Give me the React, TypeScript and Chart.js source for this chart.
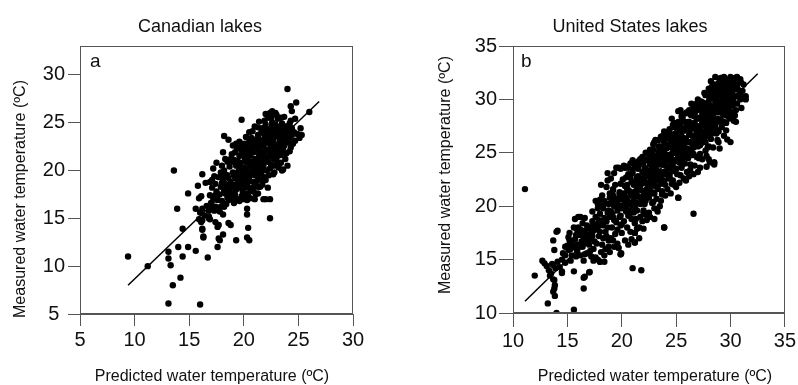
import React, { useEffect, useRef } from 'react';
import { Chart, registerables } from 'chart.js';
Chart.register(...registerables);

// ---------- Data ----------
const canadaPoints: [number, number][] = [
  [9.4, 11.0], [11.2, 10.0], [13.1, 11.5], [13.1, 10.8], [13.3, 10.1], [13.1, 6.1], [13.5, 8.0], [13.6, 20.0],
  [13.9, 16.0], [14.0, 12.0], [14.2, 8.8], [14.4, 13.9], [14.4, 11.0], [14.9, 12.0], [14.9, 17.6], [15.6, 11.6],
  [15.6, 16.0], [15.8, 18.4], [16.0, 6.0], [15.9, 17.1], [16.1, 17.3], [16.2, 19.6], [16.2, 13.8], [16.3, 13.1],
  [16.7, 10.9], [16.5, 18.7], [16.8, 15.2], [16.9, 18.8], [17.2, 20.2], [17.3, 19.4], [17.5, 20.8], [17.6, 12.0],
  [17.7, 12.9], [17.7, 14.3], [18.1, 13.3], [18.1, 21.9], [18.2, 23.6], [18.6, 23.2], [18.6, 14.5], [18.8, 14.3],
  [19.3, 12.7], [19.8, 25.3], [20.3, 16.0], [20.3, 15.4], [20.4, 14.0], [20.3, 13.0], [20.5, 12.7], [22.4, 15.0],
  [24.0, 28.5], [24.8, 27.1], [24.3, 26.7], [26.0, 26.1], [25.3, 23.7], [24.7, 23.1], [24.7, 25.4], [23.6, 20.1],
  [22.6, 26.2], [25.2, 24.4], [24.2, 24.9], [17.8, 12.7], [17.6, 14.1], [18.1, 15.4], [16.2, 14.8], [16.8, 15.0],
  [21.8, 17.0], [22.0, 17.0], [20.3, 16.9], [16.3, 13.0], [16.2, 13.9],
  [17.8, 17.5], [17.9, 18.3], [18.0, 16.8], [18.1, 19.0], [18.2, 17.9], [18.3, 18.6], [18.4, 16.5], [18.5, 19.5],
  [18.5, 17.2], [18.6, 18.0], [18.7, 20.4], [18.8, 18.8], [18.9, 17.0], [19.0, 19.8], [19.0, 18.2], [19.1, 21.1],
  [19.2, 17.5], [19.2, 19.2], [19.3, 20.5], [19.4, 18.6], [19.4, 22.3], [19.5, 17.0], [19.5, 19.9], [19.6, 21.5],
  [19.7, 18.3], [19.7, 20.8], [19.8, 19.3], [19.9, 22.0], [19.9, 17.8], [20.0, 20.3], [20.0, 18.9], [20.1, 21.3],
  [20.1, 22.8], [20.2, 19.6], [20.2, 17.4], [20.3, 20.9], [20.3, 18.4], [20.4, 22.1], [20.4, 19.1], [20.5, 23.0],
  [20.5, 20.4], [20.6, 21.6], [20.6, 18.0], [20.7, 19.8], [20.7, 22.5], [20.8, 20.9], [20.8, 24.1], [20.9, 18.8],
  [20.9, 21.9], [21.0, 19.5], [21.0, 23.2], [21.1, 20.6], [21.1, 17.5], [21.2, 22.4], [21.2, 21.0], [21.3, 19.0],
  [21.3, 23.7], [21.4, 20.2], [21.4, 22.0], [21.5, 21.3], [21.5, 18.3], [21.6, 23.0], [21.6, 19.8], [21.7, 24.4],
  [21.7, 21.8], [21.8, 20.5], [21.8, 22.6], [21.9, 19.3], [21.9, 23.5], [22.0, 21.0], [22.0, 24.8], [22.1, 22.2],
  [22.1, 20.0], [22.2, 23.3], [22.2, 25.5], [22.3, 21.5], [22.3, 19.5], [22.4, 22.8], [22.4, 24.2], [22.5, 20.6],
  [22.5, 23.8], [22.6, 22.0], [22.6, 25.0], [22.7, 21.2], [22.7, 23.1], [22.8, 24.5], [22.8, 19.8], [22.9, 22.5],
  [23.0, 23.9], [23.0, 21.0], [23.1, 25.4], [23.1, 22.2], [23.2, 20.3], [23.2, 24.2], [23.3, 22.8], [23.4, 21.6],
  [23.4, 23.5], [23.5, 24.9], [23.5, 20.0], [23.6, 22.3], [23.7, 23.9], [23.8, 21.2], [23.8, 24.6], [23.9, 22.9],
  [24.0, 23.4], [24.1, 24.1], [24.2, 22.0], [24.3, 25.2], [24.4, 23.7],
  [17.0, 16.6], [17.2, 17.1], [17.4, 16.2], [17.5, 17.8], [17.6, 16.9], [17.7, 19.3], [17.3, 15.8], [16.8, 16.3],
  [16.9, 17.4], [17.1, 18.2], [18.0, 20.5], [18.3, 21.2], [18.9, 21.7], [19.1, 16.6], [19.6, 16.8], [20.0, 17.0],
  [19.3, 22.8], [19.0, 22.6], [20.6, 17.1], [21.0, 17.0], [21.3, 17.6], [22.4, 17.0], [21.7, 18.5], [20.8, 18.2],
  [18.0, 18.7], [18.2, 20.0], [18.4, 18.1], [18.6, 19.2], [18.8, 17.6], [19.0, 20.9], [19.1, 19.5], [19.3, 18.0],
  [19.5, 20.6], [19.6, 18.8], [19.8, 21.9], [19.9, 19.7], [20.1, 18.2], [20.2, 20.9], [20.4, 21.6], [20.5, 19.3],
  [20.7, 23.4], [20.8, 19.9], [21.0, 22.6], [21.1, 18.8], [21.2, 20.0], [21.4, 23.2], [21.5, 19.5], [21.7, 22.9],
  [21.8, 21.2], [22.0, 19.0], [22.1, 23.8], [22.3, 22.1], [22.5, 21.8], [22.7, 24.0], [22.9, 20.5], [23.1, 23.6],
  [23.3, 24.4], [23.6, 23.2], [23.9, 24.0], [24.1, 23.0], [24.3, 22.4], [21.9, 25.2], [22.4, 25.8], [21.3, 24.5],
  [20.6, 22.9], [20.0, 21.8], [19.7, 22.4], [23.0, 22.0], [22.2, 20.9], [21.6, 20.7], [20.9, 20.3], [20.3, 19.8],
  [19.4, 19.5], [18.9, 18.4],
  [16.0, 15.6], [16.2, 16.0], [16.4, 15.3], [16.6, 16.3], [16.8, 15.8], [17.0, 16.1], [16.9, 14.9], [16.1, 14.6],
  [15.9, 14.9], [17.4, 14.6], [17.8, 15.7], [17.9, 16.2], [17.6, 17.4], [17.1, 19.0], [17.4, 18.6],
  [18.3, 17.6], [18.7, 18.3], [19.0, 17.6], [19.2, 18.5], [19.4, 21.0], [19.6, 20.2], [19.8, 18.7], [20.0, 19.4],
  [20.1, 20.0], [20.3, 21.4], [20.4, 18.8], [20.5, 21.0], [20.6, 19.6], [20.7, 21.9], [20.8, 20.4], [20.9, 22.8],
  [21.0, 21.2], [21.1, 19.9], [21.2, 23.0], [21.3, 20.6], [21.4, 21.6], [21.5, 22.5], [21.6, 21.0], [21.7, 20.0],
  [21.8, 23.9], [21.9, 22.0], [22.0, 22.9], [22.1, 21.4], [22.2, 24.3], [22.3, 23.4], [22.4, 20.2], [22.5, 22.4],
  [22.6, 24.7], [22.7, 22.6], [22.8, 23.5], [22.9, 21.7], [23.0, 24.6], [23.1, 21.5], [23.2, 22.6], [23.3, 23.1],
  [23.4, 24.0], [23.5, 22.0], [23.6, 24.2], [23.7, 22.6], [23.8, 23.5], [23.9, 21.8], [24.0, 24.6], [24.2, 23.4],
  [24.4, 24.4], [24.5, 22.8], [22.0, 25.9], [22.5, 25.5], [23.0, 25.8], [22.9, 26.0], [23.4, 25.5], [21.4, 25.1],
  [21.0, 24.6], [20.5, 24.0], [20.2, 23.5], [19.6, 23.0], [19.2, 21.9], [18.8, 21.2], [18.5, 20.9], [18.2, 19.5],
  [17.9, 19.8], [19.1, 17.1], [19.8, 17.3], [20.4, 17.6], [21.3, 18.3], [21.8, 19.0], [22.6, 20.5], [23.1, 20.8],
  [22.2, 18.2], [20.9, 17.8], [19.5, 18.2], [18.6, 16.9], [18.2, 16.2], [17.7, 16.0], [17.4, 17.4], [22.7, 19.6],
  [23.4, 20.8], [24.0, 20.5], [24.6, 24.0], [24.9, 23.8], [25.1, 23.4], [24.4, 26.2], [23.7, 25.6], [22.4, 26.0],
  [22.9, 24.8], [21.6, 24.0], [21.2, 22.6], [20.7, 22.4], [20.2, 22.4], [19.8, 22.8]
];
const canadaFit: [number, number][] = [[9.4, 8.0], [26.9, 27.2]];

const usPoints: [number, number][] = [
  [11.1, 21.6], [12.0, 13.5], [12.7, 14.9], [12.9, 14.65], [13.1, 14.4], [13.3, 14.0], [13.5, 13.7], [13.4, 13.5],
  [13.7, 13.15], [13.85, 12.6], [13.8, 12.3], [13.7, 12.0], [13.85, 11.6], [13.2, 10.9], [14.0, 10.0], [13.7, 14.5],
  [13.8, 13.1], [14.1, 14.8], [14.5, 13.9], [13.7, 16.8], [13.8, 15.9], [14.0, 17.6], [14.1, 17.7], [14.5, 15.0],
  [14.8, 15.4], [13.9, 14.2], [13.6, 14.6], [14.3, 14.3], [14.5, 13.75],
  [15.6, 10.3], [16.5, 12.3], [16.6, 13.4], [17.0, 13.8], [15.6, 13.9], [16.5, 13.3], [17.05, 13.84], [15.1, 17.1],
  [15.4, 16.5], [15.7, 18.8], [16.4, 18.4], [15.1, 15.9], [15.5, 16.2], [16.3, 16.7], [16.75, 17.1], [17.2, 17.5],
  [15.0, 16.3], [15.3, 16.0], [15.7, 16.9], [15.9, 16.4], [16.0, 17.3], [16.2, 17.8], [16.4, 16.2], [16.6, 17.7],
  [16.8, 18.2], [16.9, 16.6], [17.0, 18.0], [17.1, 16.9], [17.3, 18.6], [17.4, 16.0], [15.6, 18.0], [16.0, 18.0],
  [16.2, 15.4], [16.6, 15.5], [16.8, 15.6], [17.2, 15.3], [17.4, 14.9], [17.6, 15.2], [16.0, 19.0], [15.9, 17.8],
  [17.3, 17.2], [16.5, 16.5], [16.1, 16.2], [14.8, 16.2], [14.6, 15.6], [15.2, 16.8], [15.9, 15.8],
  [17.5, 17.8], [17.8, 18.1], [18.1, 18.4], [17.8, 15.0], [18.4, 15.4], [18.9, 15.7], [19.3, 16.2], [19.95, 15.6],
  [19.6, 16.5], [18.4, 14.8], [18.0, 14.8], [17.6, 19.0], [17.8, 19.8], [18.0, 20.6], [18.2, 21.0], [18.0, 19.3],
  [18.3, 17.0], [18.5, 17.6], [18.6, 18.6], [18.7, 19.4], [18.8, 20.2], [18.6, 21.8], [18.7, 22.4], [18.7, 23.1],
  [18.9, 20.8], [19.0, 17.0], [19.1, 18.0], [19.2, 19.0], [19.2, 21.5], [19.3, 20.0], [19.4, 22.0], [19.4, 17.4],
  [19.5, 18.5], [19.5, 23.6], [19.6, 19.6], [19.7, 20.6], [19.7, 16.1], [19.8, 21.3], [19.9, 18.2], [19.9, 15.5],
  [18.2, 16.4], [18.5, 16.0], [18.8, 16.8], [17.9, 17.2], [17.7, 16.5], [18.3, 19.8], [18.1, 22.0], [19.0, 22.6],
  [19.3, 23.1], [17.6, 20.5], [18.4, 20.5], [19.1, 20.4], [18.9, 19.0], [19.6, 17.8], [19.8, 19.0],
  [20.0, 17.5], [20.0, 19.8], [20.1, 20.6], [20.1, 22.5], [20.2, 18.6], [20.2, 21.2], [20.3, 23.6], [20.3, 16.8],
  [20.4, 19.5], [20.4, 20.8], [20.5, 22.0], [20.5, 18.0], [20.6, 21.5], [20.6, 23.0], [20.7, 19.2], [20.7, 20.2],
  [20.8, 22.7], [20.8, 17.6], [20.9, 21.0], [20.9, 18.8], [21.0, 19.9], [21.0, 23.4], [21.0, 14.2], [21.1, 22.0],
  [21.1, 20.5], [21.2, 16.6], [21.2, 17.5], [21.2, 18.4], [21.3, 21.4], [21.3, 24.0], [21.4, 19.6], [21.4, 22.7],
  [21.5, 20.9], [21.5, 23.5], [21.6, 18.0], [21.6, 21.8], [21.7, 19.0], [21.7, 24.4], [21.8, 14.0], [21.8, 20.3],
  [21.8, 22.4], [21.9, 23.2], [21.9, 18.6], [22.0, 21.0], [22.0, 24.1], [22.0, 19.6], [21.2, 23.8], [20.8, 24.0],
  [20.4, 23.7], [20.2, 23.8], [21.4, 17.9], [22.0, 17.9], [21.6, 17.0], [20.9, 16.9], [20.6, 16.4],
  [22.1, 22.3], [22.1, 20.2], [22.2, 23.5], [22.2, 25.0], [22.3, 21.6], [22.3, 18.7], [22.4, 24.3], [22.4, 22.8],
  [22.5, 20.8], [22.5, 19.4], [22.6, 23.0], [22.6, 25.3], [22.7, 21.9], [22.7, 24.6], [22.8, 20.3], [22.8, 23.6],
  [22.9, 22.4], [22.9, 25.8], [23.0, 21.2], [23.0, 24.0], [23.0, 19.8], [23.1, 22.9], [23.1, 26.2], [23.2, 23.4],
  [23.2, 20.7], [23.3, 24.8], [23.3, 21.8], [23.4, 22.5], [23.4, 25.6], [23.5, 23.9], [23.5, 20.0], [23.6, 26.5],
  [23.6, 22.1], [23.7, 24.4], [23.7, 21.4], [23.8, 25.2], [23.8, 23.0], [23.9, 18.0], [23.9, 26.0], [24.0, 24.0],
  [24.0, 22.0], [24.0, 21.0], [22.6, 19.0], [23.0, 18.8], [22.4, 21.5], [22.8, 21.2], [23.3, 19.5], [23.6, 20.5],
  [22.2, 19.2],
  [24.1, 25.4], [24.1, 23.2], [24.2, 26.6], [24.2, 21.6], [24.3, 24.6], [24.3, 22.6], [24.4, 27.2], [24.4, 25.8],
  [24.5, 23.8], [24.5, 21.2], [24.6, 26.2], [24.6, 24.9], [24.7, 22.4], [24.7, 27.6], [24.8, 25.5], [24.8, 23.3],
  [24.9, 26.8], [24.9, 24.2], [25.0, 21.8], [25.0, 25.9], [25.1, 27.4], [25.1, 23.0], [25.2, 28.9], [25.2, 20.8],
  [25.2, 24.6], [25.3, 26.4], [25.3, 22.2], [25.4, 25.2], [25.4, 27.8], [25.5, 23.6], [25.5, 26.9], [25.6, 24.4],
  [25.6, 28.3], [25.7, 25.7], [25.7, 22.6], [25.8, 27.1], [25.8, 24.0], [25.9, 26.3], [25.9, 28.7], [26.0, 25.0],
  [26.0, 23.2], [24.4, 23.0], [24.8, 22.0], [25.0, 26.5], [25.6, 26.0], [25.9, 22.4], [26.0, 27.6], [24.6, 28.2],
  [25.4, 29.0],
  [26.1, 27.9], [26.1, 24.5], [26.2, 26.0], [26.2, 29.0], [26.3, 25.3], [26.3, 23.4], [26.4, 27.3], [26.4, 28.5],
  [26.5, 26.6], [26.5, 24.8], [26.6, 19.3], [26.6, 29.2], [26.6, 25.8], [26.7, 27.8], [26.7, 23.8], [26.8, 26.2],
  [26.8, 28.9], [26.9, 24.6], [26.9, 27.0], [27.0, 25.6], [27.0, 29.4], [27.0, 23.2], [27.1, 28.2], [27.1, 26.7],
  [27.2, 24.9], [27.2, 29.1], [27.3, 27.5], [27.3, 25.9], [27.4, 28.6], [27.4, 24.4], [27.5, 27.0], [27.5, 29.7],
  [27.6, 26.2], [27.6, 28.0], [27.7, 25.2], [27.7, 29.3], [27.8, 27.4], [27.8, 24.7], [27.9, 28.8], [27.9, 26.6],
  [28.0, 29.8], [28.0, 25.6], [26.2, 22.8], [26.6, 23.0], [27.2, 23.6], [27.8, 23.7], [28.0, 24.4], [27.0, 30.0],
  [26.4, 29.6],
  [28.1, 27.8], [28.1, 30.6], [28.2, 26.3], [28.2, 29.0], [28.3, 31.2], [28.3, 27.2], [28.4, 28.4], [28.4, 25.5],
  [28.5, 30.1], [28.5, 24.1], [28.6, 32.1], [28.6, 27.6], [28.7, 29.3], [28.7, 26.8], [28.8, 31.0], [28.8, 28.2],
  [28.9, 30.4], [28.9, 27.0], [29.0, 29.0], [29.0, 31.7], [29.0, 25.4], [29.1, 28.0], [29.1, 30.8], [29.2, 27.4],
  [29.2, 31.9], [29.3, 29.6], [29.3, 28.6], [29.4, 30.4], [29.4, 26.6], [29.5, 31.4], [29.5, 28.9], [29.6, 29.9],
  [29.6, 27.8], [29.7, 26.25], [29.7, 31.0], [29.8, 29.2], [29.8, 30.6], [29.9, 28.4], [29.9, 31.8], [30.0, 26.0],
  [30.0, 32.1], [30.0, 29.6], [28.1, 24.1], [28.5, 23.9], [28.9, 26.0], [29.4, 31.6], [28.0, 31.0],
  [30.1, 30.8], [30.1, 28.8], [30.2, 31.5], [30.2, 29.4], [30.3, 30.2], [30.4, 32.0], [30.4, 28.5], [30.5, 31.0],
  [30.6, 29.6], [30.7, 31.6], [30.8, 30.4], [30.9, 31.9], [30.95, 31.6], [31.0, 29.2], [31.1, 30.8], [31.2, 31.4],
  [31.4, 30.0], [31.4, 30.3], [30.5, 27.9], [30.3, 28.0], [31.0, 30.3],
  [20.2, 20.1], [20.5, 20.3], [20.8, 21.1], [21.1, 21.3], [21.4, 21.0], [21.7, 22.0], [22.0, 22.4], [22.3, 22.9],
  [22.6, 22.3], [22.9, 23.3], [23.2, 23.9], [23.5, 22.8], [23.8, 24.0], [24.1, 24.3], [24.4, 24.8], [24.7, 24.1],
  [25.0, 25.3], [25.3, 25.6], [25.6, 25.0], [25.9, 26.2], [26.2, 26.7], [26.5, 26.0], [26.8, 27.2], [27.1, 27.5],
  [27.4, 26.9], [27.7, 28.0], [28.0, 28.3], [28.3, 28.8], [28.6, 28.1], [28.9, 29.3], [29.2, 29.9], [29.5, 29.4],
  [29.8, 30.1], [30.1, 30.3], [20.3, 21.9], [20.9, 22.3], [21.5, 22.5], [22.1, 23.6], [22.7, 24.2], [23.3, 24.5],
  [23.9, 25.3], [24.5, 25.9], [25.1, 26.5], [25.7, 27.2], [26.3, 27.8], [26.9, 28.3], [27.5, 28.5], [28.1, 29.4],
  [28.7, 30.0], [29.3, 30.6], [20.6, 19.6], [21.2, 19.9], [21.8, 20.7], [22.4, 21.2], [23.0, 22.2], [23.6, 23.1],
  [24.2, 23.6], [24.8, 24.3], [25.4, 24.5], [26.0, 25.3], [26.6, 25.5], [27.2, 26.2], [27.8, 26.8], [28.4, 27.5],
  [29.0, 27.9], [29.6, 28.5], [19.0, 19.5], [19.4, 20.5], [19.8, 20.0], [18.4, 18.9], [18.8, 19.6], [17.6, 18.3],
  [17.2, 18.0], [16.8, 17.3],
  [28.2, 31.7], [28.4, 30.9], [28.9, 31.5], [29.1, 32.0], [29.6, 31.9], [29.8, 31.2], [30.3, 31.8], [30.6, 32.1],
  [30.0, 31.3], [27.7, 30.4], [27.3, 29.8], [26.9, 29.6], [26.5, 29.0], [26.0, 28.8], [25.6, 28.6], [25.2, 27.9],
  [24.8, 27.4], [24.3, 27.0], [23.8, 26.6], [23.4, 26.2], [22.9, 25.3], [22.5, 24.9], [21.9, 24.6], [21.5, 24.2],
  [21.0, 24.3], [20.6, 23.6], [19.9, 23.5], [19.7, 23.6],
  [19.9, 15.5], [18.0, 14.8], [19.7, 16.1], [21.2, 16.6], [21.2, 17.5], [23.9, 18.0], [25.2, 20.8], [28.5, 24.1],
  [19.2, 21.6], [19.9, 22.1], [20.4, 22.7], [21.0, 23.1], [21.6, 23.9], [22.3, 24.4], [22.8, 25.1], [23.5, 25.6],
  [24.0, 26.3], [24.6, 26.7], [25.1, 27.2], [25.8, 27.9], [26.3, 28.6], [26.9, 29.0], [27.4, 29.5], [28.0, 30.3],
  [28.5, 30.6], [29.2, 31.3], [29.7, 31.7],
  [19.4, 20.7], [19.8, 21.1], [20.5, 21.6], [21.1, 22.3], [21.5, 22.8], [22.0, 23.1], [22.6, 23.9], [23.1, 24.2],
  [23.7, 24.8], [24.2, 25.5], [24.8, 26.0], [25.3, 26.4], [25.9, 27.1], [26.4, 27.6], [27.0, 28.2], [27.5, 28.8],
  [28.1, 29.3], [28.6, 29.7], [29.3, 30.4], [29.9, 31.0], [30.4, 31.3],
  [19.1, 19.3], [19.7, 20.1], [20.3, 20.6], [20.9, 21.2], [21.4, 21.6], [22.1, 22.3], [22.5, 22.9], [23.0, 23.2],
  [23.6, 24.0], [24.1, 24.3], [24.7, 25.0], [25.2, 25.6], [25.8, 26.0], [26.3, 26.7], [26.9, 27.1], [27.4, 27.8],
  [28.0, 28.2], [28.5, 28.9], [29.1, 29.3], [29.6, 30.0], [30.2, 30.5], [30.7, 30.9],
  [19.3, 18.7], [19.9, 19.1], [20.4, 19.8], [21.0, 20.2], [21.5, 20.9], [22.2, 21.4], [22.7, 22.0], [23.3, 22.5],
  [23.8, 23.2], [24.3, 23.5], [24.9, 24.3], [25.5, 24.7], [26.0, 25.4], [26.5, 25.8], [27.1, 26.5], [27.6, 26.8],
  [28.2, 27.5], [28.7, 28.0], [29.3, 28.6], [29.8, 29.0], [30.3, 29.7], [30.9, 30.0],
  [20.0, 18.3], [20.6, 19.1], [21.1, 19.4], [21.7, 20.2], [22.2, 20.5], [22.8, 21.3], [23.3, 21.6], [23.9, 22.4],
  [24.4, 22.7], [25.0, 23.5], [25.5, 23.8], [26.1, 24.6], [26.6, 24.9], [27.2, 25.7], [27.7, 26.0], [28.3, 26.8],
  [28.8, 27.1], [29.4, 27.9], [29.9, 28.2], [30.5, 29.0],
  [21.3, 18.8], [22.0, 19.4], [22.9, 20.4], [23.7, 21.1], [24.6, 22.1], [25.4, 22.9], [26.3, 23.9], [27.1, 24.5],
  [27.9, 25.5], [28.8, 26.2], [29.6, 27.1],
  [23.0, 26.0], [23.9, 27.0], [24.8, 27.8], [25.5, 28.4], [26.6, 29.5], [27.6, 30.6], [28.5, 31.4], [29.4, 32.1],
  [15.2, 17.5], [15.8, 17.3], [16.3, 17.3], [16.9, 17.9], [17.4, 18.2], [17.9, 18.7], [18.3, 18.2], [18.7, 18.0],
  [15.4, 15.4], [15.9, 16.0], [16.5, 16.9], [17.0, 16.4], [17.5, 16.7], [18.0, 17.6], [18.6, 17.2], [16.2, 19.0],
  [16.6, 18.9], [17.3, 19.5], [17.8, 20.2], [18.3, 20.1], [18.9, 21.2], [19.2, 21.0], [14.8, 14.7], [15.3, 14.9],
  [15.8, 15.3], [16.5, 14.9], [17.1, 15.8], [18.1, 15.7], [18.8, 16.2], [19.2, 16.8],
  [20.1, 20.9], [20.7, 21.4], [21.3, 22.2], [21.9, 22.6], [22.4, 23.3], [23.0, 23.7], [23.5, 24.4], [24.1, 24.8],
  [24.6, 25.5], [25.2, 26.0], [25.7, 26.4], [26.3, 27.2], [26.8, 27.5], [27.4, 28.3], [27.9, 28.6], [28.4, 29.3],
  [29.0, 29.7], [29.5, 30.3], [30.1, 30.9], [30.6, 31.3],
  [20.6, 20.4], [21.2, 21.0], [21.8, 21.5], [22.3, 22.1], [22.9, 22.8], [23.4, 23.2], [24.0, 23.8], [24.5, 24.3],
  [25.1, 24.9], [25.6, 25.5], [26.2, 26.0], [26.7, 26.6], [27.3, 27.0], [27.8, 27.7], [28.4, 28.1], [28.9, 28.8],
  [29.5, 29.2], [30.0, 29.9], [30.6, 30.3],
  [21.4, 20.3], [22.0, 20.8], [22.5, 21.5], [23.1, 21.9], [23.6, 22.6], [24.2, 23.0], [24.7, 23.7], [25.3, 24.1],
  [25.8, 24.8], [26.4, 25.2], [26.9, 25.9], [27.5, 26.3], [28.0, 27.0], [28.6, 27.4], [29.1, 28.1], [29.7, 28.5],
  [22.9, 24.6], [23.4, 25.1], [24.0, 25.7], [24.5, 26.3], [25.1, 26.8], [25.6, 27.3], [26.2, 27.9], [26.7, 28.4],
  [27.3, 29.0], [27.8, 29.5], [28.4, 30.1], [28.9, 30.6], [29.5, 31.1], [30.0, 31.7]
];
const usFit: [number, number][] = [[11.1, 11.1], [32.5, 32.4]];

const canadaXTicks = [5, 10, 15, 20, 25, 30];
const canadaYTicks = [5, 10, 15, 20, 25, 30];
const usXTicks = [10, 15, 20, 25, 30, 35];
const usYTicks = [10, 15, 20, 25, 30, 35];

const xAxisTitle = 'Predicted water temperature (ºC)';
const yAxisTitle = 'Measured water temperature (ºC)';

// ---------- Chart helpers ----------
const FONT = '"Liberation Sans", Arial, Helvetica, sans-serif';
const LINE = '#555';

type Panel = {
  points: [number, number][];
  fit: [number, number][];
  xMin: number; xMax: number; yMin: number; yMax: number;
  xTicks: number[]; yTicks: number[];
  title: string; letter: string;
  width: number;
  area: { left: number; right: number; top: number; bottom: number };
  tickLen: number; yTickPad: number;
  text: { titleX: number; titleY: number; letterX: number; letterY: number; xTitleX: number; xTitleY: number; yTitleX: number; yTitleY: number };
};

const HEIGHT = 385;

const decorPlugin = {
  id: 'decor',
  afterDraw(chart: any, _args: any, opts: any) {
    const p: Panel = opts.panel;
    const { ctx, chartArea: a } = chart;
    ctx.save();
    ctx.strokeStyle = LINE;
    ctx.lineWidth = 1;
    const l = Math.round(a.left) + 0.5, t = Math.round(a.top) + 0.5;
    const r = Math.round(a.right) - 0.5, b = Math.round(a.bottom) - 0.5;
    ctx.strokeRect(l, t, r - l, b - t);
    ctx.fillStyle = '#111';
    ctx.textBaseline = 'alphabetic';
    ctx.textAlign = 'center';
    ctx.font = `18px ${FONT}`;
    ctx.fillText(p.title, p.text.titleX, p.text.titleY);
    ctx.textAlign = 'left';
    ctx.font = `19px ${FONT}`;
    ctx.fillText(p.letter, p.text.letterX, p.text.letterY);
    ctx.textAlign = 'center';
    ctx.font = `16px ${FONT}`;
    ctx.fillText(xAxisTitle, p.text.xTitleX, p.text.xTitleY);
    ctx.translate(p.text.yTitleX, p.text.yTitleY);
    ctx.rotate(-Math.PI / 2);
    ctx.fillText(yAxisTitle, 0, 0);
    ctx.restore();
  },
};

function makeConfig(p: Panel): any {
  const tickFont = { family: FONT, size: 20 };
  return {
    type: 'scatter',
    data: {
      datasets: [
        {
          data: p.points.map(([x, y]) => ({ x, y })),
          pointRadius: 3.2,
          pointBackgroundColor: '#000',
          pointBorderWidth: 0,
          pointBorderColor: '#000',
        },
        {
          type: 'line',
          data: p.fit.map(([x, y]) => ({ x, y })),
          borderColor: '#000',
          borderWidth: 1.5,
          pointRadius: 0,
          showLine: true,
          fill: false,
        },
      ],
    },
    options: {
      responsive: false,
      animation: false,
      events: [],
      layout: {
        padding: { left: 0, top: p.area.top, right: p.width - p.area.right, bottom: 0 },
      },
      plugins: {
        legend: { display: false },
        tooltip: { enabled: false },
        decor: { panel: p },
      },
      scales: {
        x: {
          type: 'linear',
          min: p.xMin,
          max: p.xMax,
          afterBuildTicks: (s: any) => { s.ticks = p.xTicks.map((v) => ({ value: v })); },
          afterFit: (s: any) => { s.height = HEIGHT - p.area.bottom; },
          grid: { drawOnChartArea: false, drawTicks: true, tickLength: p.tickLen, color: LINE, lineWidth: 1 },
          border: { display: true, color: LINE, width: 1 },
          ticks: { font: tickFont, color: '#111', padding: 2, maxRotation: 0, autoSkip: false },
        },
        y: {
          type: 'linear',
          min: p.yMin,
          max: p.yMax,
          afterBuildTicks: (s: any) => { s.ticks = p.yTicks.map((v) => ({ value: v })); },
          afterFit: (s: any) => { s.width = p.area.left; },
          grid: { drawOnChartArea: false, drawTicks: true, tickLength: p.tickLen, color: LINE, lineWidth: 1 },
          border: { display: true, color: LINE, width: 1 },
          ticks: { font: tickFont, color: '#111', padding: p.yTickPad, crossAlign: 'center', autoSkip: false },
        },
      },
    },
    plugins: [decorPlugin],
  };
}

const panelA: Panel = {
  points: canadaPoints, fit: canadaFit,
  xMin: 5, xMax: 30, yMin: 5, yMax: 33,
  xTicks: canadaXTicks, yTicks: canadaYTicks,
  title: 'Canadian lakes', letter: 'a',
  width: 400,
  area: { left: 80, right: 353, top: 46, bottom: 314 },
  tickLen: 12, yTickPad: 3,
  text: { titleX: 200, titleY: 32, letterX: 90, letterY: 67, xTitleX: 212, xTitleY: 381, yTitleX: 25, yTitleY: 199 },
};

const panelB: Panel = {
  points: usPoints, fit: usFit,
  xMin: 10, xMax: 35, yMin: 10, yMax: 35,
  xTicks: usXTicks, yTicks: usYTicks,
  title: 'United States lakes', letter: 'b',
  width: 398,
  area: { left: 113, right: 386, top: 46, bottom: 313 },
  tickLen: 14, yTickPad: 2,
  text: { titleX: 230, titleY: 32, letterX: 121, letterY: 67, xTitleX: 255, xTitleY: 381, yTitleX: 50, yTitleY: 175 },
};

function ChartCanvas({ panel, left }: { panel: Panel; left: number }) {
  const ref = useRef<HTMLCanvasElement | null>(null);
  useEffect(() => {
    if (!ref.current) return;
    const chart = new Chart(ref.current, makeConfig(panel));
    return () => chart.destroy();
  }, [panel]);
  return (
    <canvas
      ref={ref}
      width={panel.width}
      height={HEIGHT}
      style={{ position: 'absolute', left, top: 0, width: panel.width, height: HEIGHT }}
    />
  );
}

export default function App() {
  return (
    <div style={{ position: 'absolute', left: 0, top: 0, width: 798, height: HEIGHT, background: '#fff' }}>
      <ChartCanvas panel={panelA} left={0} />
      <ChartCanvas panel={panelB} left={400} />
    </div>
  );
}
